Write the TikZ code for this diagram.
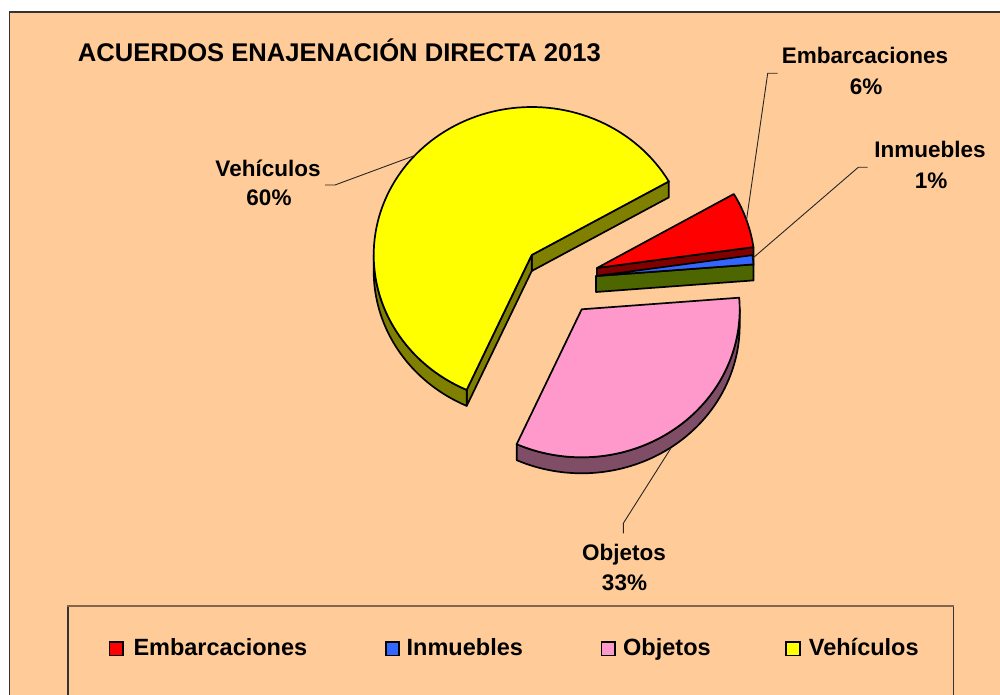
\documentclass[tikz,border=0pt]{standalone}
\usepackage{fontspec}
\setmainfont{Liberation Sans}
\definecolor{peach}{HTML}{FFCC99}
\definecolor{yel}{HTML}{FFFF00}
\definecolor{yeld}{HTML}{808000}
\definecolor{pnk}{HTML}{FF99CC}
\definecolor{pnkd}{HTML}{804D66}
\definecolor{rd}{HTML}{FF0000}
\definecolor{rdd}{HTML}{800000}
\definecolor{blu}{HTML}{3366FF}
\definecolor{grn}{HTML}{4D6600}
\definecolor{legtop}{HTML}{80664D}
\begin{document}
\begin{tikzpicture}[x=1pt,y=-1pt,
  edge/.style={draw=black, line width=1.7pt, line join=round},
  lead/.style={draw=black!85, line width=0.9pt},
  lab/.style={font=\fontsize{22.5}{27}\selectfont\bfseries, inner sep=0pt, anchor=base},
  legtxt/.style={font=\fontsize{23.5}{28}\selectfont\bfseries, inner sep=0pt, anchor=base west},
  legsq/.style={draw=black, line width=1.6pt, minimum size=13.5pt, inner sep=0pt}]
\useasboundingbox (0,0) rectangle (1000,695);
% background
\fill[white] (0,0) rectangle (1000,695);
\fill[peach] (9.3,12) rectangle (1001,696);
\draw[black!80, line width=1.3pt] (9.3,696) -- (9.3,12) -- (1001,12);
% title
\node[anchor=base west, font=\fontsize{25.6}{30}\selectfont\bfseries, inner sep=0pt] (title) at (77.6,62) {ACUERDOS ENAJENACIÓN DIRECTA 2013};
% ---- Vehiculos (yellow)
\filldraw[edge, fill=yeld] (531.7,255) -- (668.8,181.4) -- (668.8,197.4) -- (531.7,271) -- cycle;
\filldraw[edge, fill=yeld] (531.7,255) -- (466.7,389.9) -- (466.7,405.9) -- (531.7,271) -- cycle;
\filldraw[edge, fill=yeld] plot[domain=180:245.7,samples=40] ({531.7+158*cos(\x)},{255-148*sin(\x)}) -- plot[domain=245.7:180,samples=40] ({531.7+158*cos(\x)},{271-148*sin(\x)}) -- cycle;
\filldraw[edge, fill=yel] (531.7,255) -- plot[domain=29.8:245.7,samples=100] ({531.7+158*cos(\x)},{255-148*sin(\x)}) -- cycle;
% ---- Embarcaciones (red)
\filldraw[edge, fill=rdd] (597,268) -- (753.4,247.1) -- (753.4,263.1) -- (597,284) -- cycle;
\filldraw[edge, fill=rd] (597,268) -- plot[domain=8.1:30,samples=20] ({597+158*cos(\x)},{268-148*sin(\x)}) -- cycle;
% ---- Inmuebles (blue)
\filldraw[edge, fill=grn] (596,276) -- (753.5,264.4) -- (753.5,280.4) -- (596,292) -- cycle;
\filldraw[edge, fill=blu] (596,276) -- plot[domain=4.5:8.1,samples=5] ({596+158*cos(\x)},{276-148*sin(\x)}) -- cycle;
% ---- Objetos (pink)
\filldraw[edge, fill=pnkd] plot[domain=245.7:360,samples=60] ({581.7+158*cos(\x)},{309.3-148*sin(\x)}) -- plot[domain=360:245.7,samples=60] ({581.7+158*cos(\x)},{325.3-148*sin(\x)}) -- cycle;
\filldraw[edge, fill=pnk] (581.7,309.3) -- plot[domain=245.7:364.5,samples=60] ({581.7+158*cos(\x)},{309.3-148*sin(\x)}) -- cycle;
% ---- data labels
\node[lab] (embL) at (865,64) {Embarcaciones};
\node[lab] (embP) at (866,95) {6\%};
\node[lab] (inmL) at (930,158) {Inmuebles};
\node[lab] (inmP) at (931,188) {1\%};
\node[lab] (vehL) at (268,176) {Vehículos};
\node[lab] (vehP) at (269,205.7) {60\%};
\node[lab] (objL) at (624,560.7) {Objetos};
\node[lab] (objP) at (624.5,590) {33\%};
% ---- leader lines
\coordinate (embT) at (746.5,220);
\coordinate (embK) at (767.7,73.3);
\coordinate (embE) at (777.7,73.3);
\coordinate (inmT) at (753,258);
\coordinate (inmK) at (858.3,167.3);
\coordinate (inmE) at (867.7,167.3);
\coordinate (vehT) at (414.8,155.5);
\coordinate (vehK) at (335,185);
\coordinate (vehE) at (325,185);
\coordinate (objT) at (671,448);
\coordinate (objK) at (623.3,523.3);
\coordinate (objE) at (623.3,533.3);
\draw[lead] (embT) -- (embK) -- (embE);
\draw[lead] (inmT) -- (inmK) -- (inmE);
\draw[lead] (vehT) -- (vehK) -- (vehE);
\draw[lead] (objT) -- (objK) -- (objE);
% ---- legend
\draw[black!80, line width=1.2pt] (68,697) -- (68,605.5) -- (953.3,605.5) -- (953.3,697);
\draw[legtop, line width=2pt] (67.4,605.5) -- (953.9,605.5);
\node[legsq, fill=rd] (sq1) at (116.3,648.8) {};
\node[legsq, fill=blu] (sq2) at (392.5,648.8) {};
\node[legsq, fill=pnk] (sq3) at (608.3,648.8) {};
\node[legsq, fill=yel] (sq4) at (793,648.8) {};
\node[legtxt] (lt1) at (133.3,655) {Embarcaciones};
\node[legtxt] (lt2) at (406.5,655) {Inmuebles};
\node[legtxt] (lt3) at (623,655) {Objetos};
\node[legtxt] (lt4) at (808.7,655) {Vehículos};
\end{tikzpicture}
\end{document}
